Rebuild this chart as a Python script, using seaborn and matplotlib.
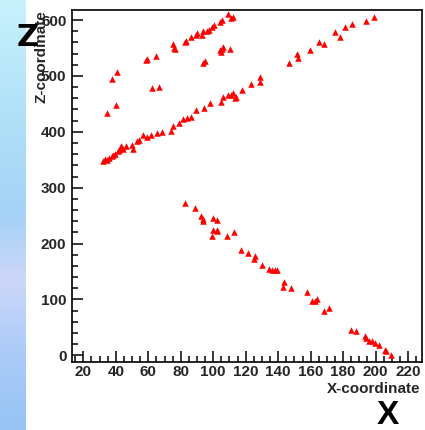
import numpy as np
import pandas as pd
import matplotlib
matplotlib.use("Agg")
import matplotlib.pyplot as plt
from matplotlib.ticker import MultipleLocator
import seaborn as sns

# ---- data ----
x_upper = [58.6, 59.4, 64.7, 75.0, 75.8, 76.4, 82.6, 83.2, 86.1, 89.4, 89.8, 92.9,
           93.5, 95.9, 97.4, 99.0, 100.4, 104.1, 105.2, 109.2, 110.7, 112.3]
z_upper = [528, 530, 536, 557, 550, 549, 561, 563, 569, 573, 576, 573,
           581, 581, 583, 588, 591, 597, 600, 611, 603, 606]

x_right = [146.8, 151.3, 152.3, 159.9, 165.2, 168.1, 174.9, 178.0, 181.1, 185.2, 193.8, 198.9]
z_right = [524, 539, 532, 546, 561, 558, 579, 570, 588, 593, 599, 606]

x_mid = [93.5, 94.9, 104.6, 104.1, 105.3, 106.2, 110.3]
z_mid = [523, 526, 543, 546, 549, 552, 549]

x_left = [37.5, 40.9, 62.1, 66.8, 34.4, 40.1]
z_left = [495, 507, 478, 480, 433, 448]

x_band = [32.3, 33.5, 34.4, 36.0, 37.5, 38.2, 39.5, 41.5, 42.0, 43.0, 43.6, 44.6,
          46.5, 49.8, 50.4, 52.9, 54.5, 56.6, 59.4, 61.5, 65.5, 68.2, 73.8, 75.0,
          79.1, 81.5, 83.6, 86.1, 89.4, 94.3, 98.0, 104.6, 106.2, 109.2, 110.7,
          112.3, 113.4, 114.0, 117.5, 123.0, 128.7, 128.7]
z_band = [347, 351, 350, 353, 356, 358, 361, 365, 367, 374, 371, 369,
          374, 377, 369, 383, 386, 395, 390, 395, 398, 399, 402, 411,
          416, 423, 424, 427, 439, 442, 451, 454, 463, 466, 466,
          469, 460, 463, 475, 486, 490, 498]

x_down = [82.6, 88.7, 92.2, 93.8, 93.5, 100.0, 102.5, 100.0, 102.1, 102.5, 99.0,
          108.2, 112.7, 117.0, 121.2, 125.7, 125.0, 129.8, 134.5, 135.9, 138.0,
          139.0, 143.5, 142.7, 147.6, 157.5, 160.6, 162.6, 164.0, 168.3, 171.4,
          184.7, 187.8, 193.4, 194.4, 196.0, 197.5, 199.5, 202.2, 205.7, 206.3, 209.4]
z_down = [272, 263, 250, 244, 240, 246, 243, 225, 225, 222, 214,
          214, 220, 188, 183, 178, 172, 162, 154, 152, 152,
          153, 132, 123, 121, 113, 98, 98, 101, 80, 84,
          46, 43, 34, 31, 25, 25, 22, 19, 10, 7, 0]

x_all = x_upper + x_right + x_mid + x_left + x_band + x_down
z_all = z_upper + z_right + z_mid + z_left + z_band + z_down

x_ticks = [20, 40, 60, 80, 100, 120, 140, 160, 180, 200, 220]
z_ticks = [0, 100, 200, 300, 400, 500, 600]

df = pd.DataFrame({"X-coordinate": x_all, "Z-coordinate": z_all})

# ---- figure ----
sns.set_style("white")
plt.rcParams["font.family"] = ["Liberation Sans", "DejaVu Sans"]

W, H = 425, 430
fig = plt.figure(figsize=(W / 100, H / 100), dpi=100)

# blue gradient strip on the left (slide background)
gax = fig.add_axes([0, 0, 26 / W, 1])
stops_y = np.array([0.0, 0.25, 0.5, 0.65, 0.8, 1.0])
stops_c = np.array([[200, 242, 252], [178, 225, 248], [165, 210, 246],
                    [205, 215, 250], [175, 205, 248], [150, 195, 245]]) / 255.0
yy = np.linspace(0, 1, 200)
grad = np.stack([np.interp(yy, stops_y, stops_c[:, k]) for k in range(3)], axis=1)
gax.imshow(grad[:, None, :], aspect="auto", extent=[0, 1, 1, 0])
gax.set_axis_off()

ax = fig.add_axes([72 / W, 1 - 362 / H, 350 / W, 352 / H])
sns.scatterplot(data=df, x="X-coordinate", y="Z-coordinate", ax=ax,
                marker="^", color="#ff0000", s=22, linewidth=0, legend=False)

ax.set_xlim(13, 228.6)
ax.set_ylim(-12, 618)
ax.set_xticks(x_ticks)
ax.set_yticks(z_ticks)
ax.xaxis.set_minor_locator(MultipleLocator(5))
ax.yaxis.set_minor_locator(MultipleLocator(20))
ax.tick_params(axis="both", which="major", direction="in", length=8, width=1.1,
               labelsize=11, top=False, right=False, bottom=True, left=True,
               color="black")
ax.tick_params(axis="both", which="minor", direction="in", length=4, width=1.1,
               top=False, right=False, bottom=True, left=True, color="black")
ax.tick_params(axis="x", which="major", pad=2)
ax.tick_params(axis="y", which="major", pad=4)
for lab in ax.get_xticklabels() + ax.get_yticklabels():
    lab.set_fontweight("bold")
for sp in ax.spines.values():
    sp.set_visible(True)
    sp.set_color("black")
    sp.set_linewidth(1.2)
ax.set_xlabel("")
ax.set_ylabel("")

fig.text(420 / W, 1 - 389 / H, "X-coordinate", ha="right", va="center",
         fontsize=11, fontweight="bold")
fig.text(42 / W, 1 - 10 / H, "Z-coordinate", ha="center", va="top",
         rotation=90, fontsize=11, fontweight="bold")

# big axis letters from the slide
fig.text(28 / W, 1 - 38 / H, "Z", ha="center", va="center",
         fontsize=22, fontweight="bold", color="black", family="DejaVu Sans")
fig.text(388 / W, 1 - 416 / H, "X", ha="center", va="center",
         fontsize=24, fontweight="bold", color="black")

fig.savefig("out.png", dpi=100)
